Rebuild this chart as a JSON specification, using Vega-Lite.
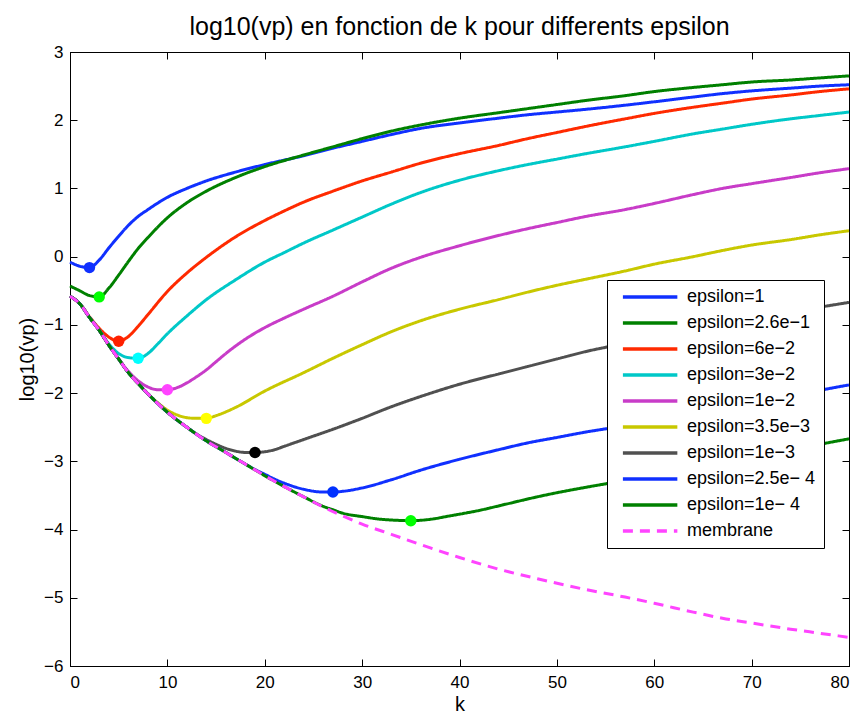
{
  "$schema": "https://vega.github.io/schema/vega-lite/v6.json",
  "autosize": {"type": "none"},
  "width": 779,
  "height": 614,
  "padding": {"left": 70, "top": 52, "right": 14, "bottom": 53},
  "title": {"text": "log10(vp) en fonction de k pour differents epsilon", "fontSize": 25, "fontWeight": "normal", "font": "Liberation Sans", "offset": 3, "anchor": "middle", "color": "black"},
  "config": {
    "font": "Liberation Sans",
    "view": {"stroke": "black", "strokeWidth": 1},
    "axis": {"grid": false, "domainColor": "black", "tickColor": "black", "labelColor": "black", "titleColor": "black", "labelFontSize": 17, "titleFontSize": 20, "titleFontWeight": "normal", "tickSize": -7, "domainWidth": 1, "labelFont": "Liberation Sans", "titleFont": "Liberation Sans"}
  },
  "datasets": {
    "curves": [
      {"s": "epsilon=1", "k": 0, "v": -0.08}, {"s": "epsilon=1", "k": 1, "v": -0.14}, {"s": "epsilon=1", "k": 2, "v": -0.16}, {"s": "epsilon=1", "k": 3, "v": -0.05}, {"s": "epsilon=1", "k": 4, "v": 0.13}, {"s": "epsilon=1", "k": 5, "v": 0.30}, {"s": "epsilon=1", "k": 6, "v": 0.46}, {"s": "epsilon=1", "k": 7, "v": 0.59}, {"s": "epsilon=1", "k": 8, "v": 0.69}, {"s": "epsilon=1", "k": 10, "v": 0.87}, {"s": "epsilon=1", "k": 12, "v": 1.00}, {"s": "epsilon=1", "k": 14, "v": 1.11}, {"s": "epsilon=1", "k": 17, "v": 1.24}, {"s": "epsilon=1", "k": 20, "v": 1.35}, {"s": "epsilon=1", "k": 24, "v": 1.48}, {"s": "epsilon=1", "k": 27, "v": 1.59}, {"s": "epsilon=1", "k": 30, "v": 1.69}, {"s": "epsilon=1", "k": 33, "v": 1.79}, {"s": "epsilon=1", "k": 36, "v": 1.88}, {"s": "epsilon=1", "k": 40, "v": 1.96}, {"s": "epsilon=1", "k": 44, "v": 2.03}, {"s": "epsilon=1", "k": 47, "v": 2.08}, {"s": "epsilon=1", "k": 50, "v": 2.12}, {"s": "epsilon=1", "k": 53, "v": 2.16}, {"s": "epsilon=1", "k": 57, "v": 2.22}, {"s": "epsilon=1", "k": 60, "v": 2.27}, {"s": "epsilon=1", "k": 64, "v": 2.34}, {"s": "epsilon=1", "k": 67, "v": 2.39}, {"s": "epsilon=1", "k": 70, "v": 2.43}, {"s": "epsilon=1", "k": 74, "v": 2.47}, {"s": "epsilon=1", "k": 77, "v": 2.50}, {"s": "epsilon=1", "k": 80, "v": 2.52},

      {"s": "epsilon=2.6e−1", "k": 0, "v": -0.43}, {"s": "epsilon=2.6e−1", "k": 1, "v": -0.50}, {"s": "epsilon=2.6e−1", "k": 2, "v": -0.57}, {"s": "epsilon=2.6e−1", "k": 3, "v": -0.59}, {"s": "epsilon=2.6e−1", "k": 4, "v": -0.46}, {"s": "epsilon=2.6e−1", "k": 5, "v": -0.27}, {"s": "epsilon=2.6e−1", "k": 6, "v": -0.07}, {"s": "epsilon=2.6e−1", "k": 7, "v": 0.12}, {"s": "epsilon=2.6e−1", "k": 8, "v": 0.28}, {"s": "epsilon=2.6e−1", "k": 10, "v": 0.57}, {"s": "epsilon=2.6e−1", "k": 12, "v": 0.79}, {"s": "epsilon=2.6e−1", "k": 14, "v": 0.96}, {"s": "epsilon=2.6e−1", "k": 17, "v": 1.16}, {"s": "epsilon=2.6e−1", "k": 20, "v": 1.32}, {"s": "epsilon=2.6e−1", "k": 24, "v": 1.49}, {"s": "epsilon=2.6e−1", "k": 27, "v": 1.61}, {"s": "epsilon=2.6e−1", "k": 30, "v": 1.73}, {"s": "epsilon=2.6e−1", "k": 33, "v": 1.84}, {"s": "epsilon=2.6e−1", "k": 36, "v": 1.93}, {"s": "epsilon=2.6e−1", "k": 40, "v": 2.03}, {"s": "epsilon=2.6e−1", "k": 44, "v": 2.11}, {"s": "epsilon=2.6e−1", "k": 47, "v": 2.17}, {"s": "epsilon=2.6e−1", "k": 50, "v": 2.23}, {"s": "epsilon=2.6e−1", "k": 53, "v": 2.29}, {"s": "epsilon=2.6e−1", "k": 57, "v": 2.36}, {"s": "epsilon=2.6e−1", "k": 60, "v": 2.42}, {"s": "epsilon=2.6e−1", "k": 64, "v": 2.48}, {"s": "epsilon=2.6e−1", "k": 67, "v": 2.52}, {"s": "epsilon=2.6e−1", "k": 70, "v": 2.56}, {"s": "epsilon=2.6e−1", "k": 74, "v": 2.59}, {"s": "epsilon=2.6e−1", "k": 77, "v": 2.62}, {"s": "epsilon=2.6e−1", "k": 80, "v": 2.65},

      {"s": "epsilon=6e−2", "k": 0, "v": -0.58}, {"s": "epsilon=6e−2", "k": 1, "v": -0.69}, {"s": "epsilon=6e−2", "k": 2, "v": -0.88}, {"s": "epsilon=6e−2", "k": 3, "v": -1.05}, {"s": "epsilon=6e−2", "k": 4, "v": -1.18}, {"s": "epsilon=6e−2", "k": 5, "v": -1.24}, {"s": "epsilon=6e−2", "k": 6, "v": -1.17}, {"s": "epsilon=6e−2", "k": 7, "v": -1.02}, {"s": "epsilon=6e−2", "k": 8, "v": -0.85}, {"s": "epsilon=6e−2", "k": 10, "v": -0.51}, {"s": "epsilon=6e−2", "k": 12, "v": -0.24}, {"s": "epsilon=6e−2", "k": 14, "v": -0.01}, {"s": "epsilon=6e−2", "k": 17, "v": 0.29}, {"s": "epsilon=6e−2", "k": 20, "v": 0.53}, {"s": "epsilon=6e−2", "k": 22, "v": 0.67}, {"s": "epsilon=6e−2", "k": 24, "v": 0.80}, {"s": "epsilon=6e−2", "k": 27, "v": 0.96}, {"s": "epsilon=6e−2", "k": 30, "v": 1.11}, {"s": "epsilon=6e−2", "k": 33, "v": 1.24}, {"s": "epsilon=6e−2", "k": 36, "v": 1.37}, {"s": "epsilon=6e−2", "k": 40, "v": 1.51}, {"s": "epsilon=6e−2", "k": 44, "v": 1.63}, {"s": "epsilon=6e−2", "k": 47, "v": 1.73}, {"s": "epsilon=6e−2", "k": 50, "v": 1.82}, {"s": "epsilon=6e−2", "k": 53, "v": 1.91}, {"s": "epsilon=6e−2", "k": 57, "v": 2.02}, {"s": "epsilon=6e−2", "k": 60, "v": 2.10}, {"s": "epsilon=6e−2", "k": 64, "v": 2.19}, {"s": "epsilon=6e−2", "k": 67, "v": 2.25}, {"s": "epsilon=6e−2", "k": 70, "v": 2.31}, {"s": "epsilon=6e−2", "k": 74, "v": 2.37}, {"s": "epsilon=6e−2", "k": 77, "v": 2.42}, {"s": "epsilon=6e−2", "k": 80, "v": 2.46},

      {"s": "epsilon=3e−2", "k": 0, "v": -0.58}, {"s": "epsilon=3e−2", "k": 1, "v": -0.69}, {"s": "epsilon=3e−2", "k": 2, "v": -0.89}, {"s": "epsilon=3e−2", "k": 3, "v": -1.08}, {"s": "epsilon=3e−2", "k": 4, "v": -1.28}, {"s": "epsilon=3e−2", "k": 5, "v": -1.42}, {"s": "epsilon=3e−2", "k": 6, "v": -1.48}, {"s": "epsilon=3e−2", "k": 7, "v": -1.49}, {"s": "epsilon=3e−2", "k": 8, "v": -1.42}, {"s": "epsilon=3e−2", "k": 9, "v": -1.28}, {"s": "epsilon=3e−2", "k": 10, "v": -1.13}, {"s": "epsilon=3e−2", "k": 12, "v": -0.87}, {"s": "epsilon=3e−2", "k": 14, "v": -0.63}, {"s": "epsilon=3e−2", "k": 17, "v": -0.34}, {"s": "epsilon=3e−2", "k": 20, "v": -0.08}, {"s": "epsilon=3e−2", "k": 22, "v": 0.06}, {"s": "epsilon=3e−2", "k": 24, "v": 0.20}, {"s": "epsilon=3e−2", "k": 27, "v": 0.39}, {"s": "epsilon=3e−2", "k": 30, "v": 0.58}, {"s": "epsilon=3e−2", "k": 33, "v": 0.77}, {"s": "epsilon=3e−2", "k": 36, "v": 0.94}, {"s": "epsilon=3e−2", "k": 40, "v": 1.12}, {"s": "epsilon=3e−2", "k": 44, "v": 1.26}, {"s": "epsilon=3e−2", "k": 47, "v": 1.35}, {"s": "epsilon=3e−2", "k": 50, "v": 1.43}, {"s": "epsilon=3e−2", "k": 53, "v": 1.51}, {"s": "epsilon=3e−2", "k": 57, "v": 1.61}, {"s": "epsilon=3e−2", "k": 60, "v": 1.69}, {"s": "epsilon=3e−2", "k": 64, "v": 1.80}, {"s": "epsilon=3e−2", "k": 67, "v": 1.87}, {"s": "epsilon=3e−2", "k": 70, "v": 1.94}, {"s": "epsilon=3e−2", "k": 74, "v": 2.02}, {"s": "epsilon=3e−2", "k": 77, "v": 2.07}, {"s": "epsilon=3e−2", "k": 80, "v": 2.12},

      {"s": "epsilon=1e−2", "k": 0, "v": -0.58}, {"s": "epsilon=1e−2", "k": 1, "v": -0.69}, {"s": "epsilon=1e−2", "k": 2, "v": -0.89}, {"s": "epsilon=1e−2", "k": 3, "v": -1.08}, {"s": "epsilon=1e−2", "k": 4, "v": -1.30}, {"s": "epsilon=1e−2", "k": 5, "v": -1.50}, {"s": "epsilon=1e−2", "k": 6, "v": -1.68}, {"s": "epsilon=1e−2", "k": 7, "v": -1.82}, {"s": "epsilon=1e−2", "k": 8, "v": -1.91}, {"s": "epsilon=1e−2", "k": 9, "v": -1.95}, {"s": "epsilon=1e−2", "k": 10, "v": -1.95}, {"s": "epsilon=1e−2", "k": 11, "v": -1.92}, {"s": "epsilon=1e−2", "k": 12, "v": -1.85}, {"s": "epsilon=1e−2", "k": 13, "v": -1.76}, {"s": "epsilon=1e−2", "k": 14, "v": -1.66}, {"s": "epsilon=1e−2", "k": 15, "v": -1.54}, {"s": "epsilon=1e−2", "k": 16, "v": -1.42}, {"s": "epsilon=1e−2", "k": 17, "v": -1.31}, {"s": "epsilon=1e−2", "k": 18, "v": -1.21}, {"s": "epsilon=1e−2", "k": 20, "v": -1.04}, {"s": "epsilon=1e−2", "k": 22, "v": -0.90}, {"s": "epsilon=1e−2", "k": 24, "v": -0.77}, {"s": "epsilon=1e−2", "k": 27, "v": -0.58}, {"s": "epsilon=1e−2", "k": 30, "v": -0.37}, {"s": "epsilon=1e−2", "k": 33, "v": -0.17}, {"s": "epsilon=1e−2", "k": 36, "v": -0.01}, {"s": "epsilon=1e−2", "k": 40, "v": 0.16}, {"s": "epsilon=1e−2", "k": 44, "v": 0.31}, {"s": "epsilon=1e−2", "k": 47, "v": 0.41}, {"s": "epsilon=1e−2", "k": 50, "v": 0.50}, {"s": "epsilon=1e−2", "k": 53, "v": 0.59}, {"s": "epsilon=1e−2", "k": 57, "v": 0.69}, {"s": "epsilon=1e−2", "k": 60, "v": 0.78}, {"s": "epsilon=1e−2", "k": 64, "v": 0.91}, {"s": "epsilon=1e−2", "k": 67, "v": 1.00}, {"s": "epsilon=1e−2", "k": 70, "v": 1.07}, {"s": "epsilon=1e−2", "k": 74, "v": 1.16}, {"s": "epsilon=1e−2", "k": 77, "v": 1.23}, {"s": "epsilon=1e−2", "k": 80, "v": 1.29},

      {"s": "epsilon=3.5e−3", "k": 0, "v": -0.58}, {"s": "epsilon=3.5e−3", "k": 1, "v": -0.69}, {"s": "epsilon=3.5e−3", "k": 2, "v": -0.89}, {"s": "epsilon=3.5e−3", "k": 3, "v": -1.08}, {"s": "epsilon=3.5e−3", "k": 4, "v": -1.30}, {"s": "epsilon=3.5e−3", "k": 5, "v": -1.50}, {"s": "epsilon=3.5e−3", "k": 6, "v": -1.70}, {"s": "epsilon=3.5e−3", "k": 7, "v": -1.86}, {"s": "epsilon=3.5e−3", "k": 8, "v": -2.01}, {"s": "epsilon=3.5e−3", "k": 9, "v": -2.14}, {"s": "epsilon=3.5e−3", "k": 10, "v": -2.25}, {"s": "epsilon=3.5e−3", "k": 11, "v": -2.32}, {"s": "epsilon=3.5e−3", "k": 12, "v": -2.36}, {"s": "epsilon=3.5e−3", "k": 13, "v": -2.37}, {"s": "epsilon=3.5e−3", "k": 14, "v": -2.37}, {"s": "epsilon=3.5e−3", "k": 15, "v": -2.33}, {"s": "epsilon=3.5e−3", "k": 17, "v": -2.21}, {"s": "epsilon=3.5e−3", "k": 20, "v": -1.97}, {"s": "epsilon=3.5e−3", "k": 24, "v": -1.70}, {"s": "epsilon=3.5e−3", "k": 27, "v": -1.49}, {"s": "epsilon=3.5e−3", "k": 30, "v": -1.29}, {"s": "epsilon=3.5e−3", "k": 33, "v": -1.10}, {"s": "epsilon=3.5e−3", "k": 36, "v": -0.94}, {"s": "epsilon=3.5e−3", "k": 40, "v": -0.77}, {"s": "epsilon=3.5e−3", "k": 44, "v": -0.63}, {"s": "epsilon=3.5e−3", "k": 47, "v": -0.52}, {"s": "epsilon=3.5e−3", "k": 50, "v": -0.42}, {"s": "epsilon=3.5e−3", "k": 53, "v": -0.33}, {"s": "epsilon=3.5e−3", "k": 57, "v": -0.21}, {"s": "epsilon=3.5e−3", "k": 60, "v": -0.11}, {"s": "epsilon=3.5e−3", "k": 64, "v": 0.00}, {"s": "epsilon=3.5e−3", "k": 67, "v": 0.09}, {"s": "epsilon=3.5e−3", "k": 70, "v": 0.17}, {"s": "epsilon=3.5e−3", "k": 74, "v": 0.25}, {"s": "epsilon=3.5e−3", "k": 77, "v": 0.32}, {"s": "epsilon=3.5e−3", "k": 80, "v": 0.38},

      {"s": "epsilon=1e−3", "k": 0, "v": -0.58}, {"s": "epsilon=1e−3", "k": 1, "v": -0.69}, {"s": "epsilon=1e−3", "k": 2, "v": -0.89}, {"s": "epsilon=1e−3", "k": 3, "v": -1.08}, {"s": "epsilon=1e−3", "k": 4, "v": -1.30}, {"s": "epsilon=1e−3", "k": 5, "v": -1.50}, {"s": "epsilon=1e−3", "k": 6, "v": -1.70}, {"s": "epsilon=1e−3", "k": 7, "v": -1.86}, {"s": "epsilon=1e−3", "k": 8, "v": -2.01}, {"s": "epsilon=1e−3", "k": 9, "v": -2.15}, {"s": "epsilon=1e−3", "k": 10, "v": -2.28}, {"s": "epsilon=1e−3", "k": 12, "v": -2.50}, {"s": "epsilon=1e−3", "k": 13, "v": -2.60}, {"s": "epsilon=1e−3", "k": 14, "v": -2.68}, {"s": "epsilon=1e−3", "k": 15, "v": -2.75}, {"s": "epsilon=1e−3", "k": 16, "v": -2.81}, {"s": "epsilon=1e−3", "k": 17, "v": -2.85}, {"s": "epsilon=1e−3", "k": 18, "v": -2.87}, {"s": "epsilon=1e−3", "k": 19, "v": -2.87}, {"s": "epsilon=1e−3", "k": 20, "v": -2.86}, {"s": "epsilon=1e−3", "k": 21, "v": -2.83}, {"s": "epsilon=1e−3", "k": 22, "v": -2.78}, {"s": "epsilon=1e−3", "k": 24, "v": -2.68}, {"s": "epsilon=1e−3", "k": 27, "v": -2.53}, {"s": "epsilon=1e−3", "k": 30, "v": -2.37}, {"s": "epsilon=1e−3", "k": 33, "v": -2.20}, {"s": "epsilon=1e−3", "k": 36, "v": -2.05}, {"s": "epsilon=1e−3", "k": 40, "v": -1.87}, {"s": "epsilon=1e−3", "k": 44, "v": -1.72}, {"s": "epsilon=1e−3", "k": 47, "v": -1.61}, {"s": "epsilon=1e−3", "k": 50, "v": -1.50}, {"s": "epsilon=1e−3", "k": 53, "v": -1.39}, {"s": "epsilon=1e−3", "k": 57, "v": -1.27}, {"s": "epsilon=1e−3", "k": 60, "v": -1.17}, {"s": "epsilon=1e−3", "k": 64, "v": -1.06}, {"s": "epsilon=1e−3", "k": 67, "v": -0.98}, {"s": "epsilon=1e−3", "k": 70, "v": -0.90}, {"s": "epsilon=1e−3", "k": 74, "v": -0.81}, {"s": "epsilon=1e−3", "k": 77, "v": -0.74}, {"s": "epsilon=1e−3", "k": 80, "v": -0.67},

      {"s": "epsilon=2.5e− 4", "k": 0, "v": -0.58}, {"s": "epsilon=2.5e− 4", "k": 1, "v": -0.69}, {"s": "epsilon=2.5e− 4", "k": 2, "v": -0.89}, {"s": "epsilon=2.5e− 4", "k": 3, "v": -1.08}, {"s": "epsilon=2.5e− 4", "k": 4, "v": -1.30}, {"s": "epsilon=2.5e− 4", "k": 5, "v": -1.50}, {"s": "epsilon=2.5e− 4", "k": 6, "v": -1.70}, {"s": "epsilon=2.5e− 4", "k": 7, "v": -1.86}, {"s": "epsilon=2.5e− 4", "k": 8, "v": -2.01}, {"s": "epsilon=2.5e− 4", "k": 9, "v": -2.15}, {"s": "epsilon=2.5e− 4", "k": 10, "v": -2.28}, {"s": "epsilon=2.5e− 4", "k": 12, "v": -2.50}, {"s": "epsilon=2.5e− 4", "k": 14, "v": -2.70}, {"s": "epsilon=2.5e− 4", "k": 16, "v": -2.87}, {"s": "epsilon=2.5e− 4", "k": 18, "v": -3.04}, {"s": "epsilon=2.5e− 4", "k": 19, "v": -3.12}, {"s": "epsilon=2.5e− 4", "k": 20, "v": -3.19}, {"s": "epsilon=2.5e− 4", "k": 21, "v": -3.26}, {"s": "epsilon=2.5e− 4", "k": 22, "v": -3.32}, {"s": "epsilon=2.5e− 4", "k": 24, "v": -3.41}, {"s": "epsilon=2.5e− 4", "k": 26, "v": -3.45}, {"s": "epsilon=2.5e− 4", "k": 27, "v": -3.45}, {"s": "epsilon=2.5e− 4", "k": 28, "v": -3.44}, {"s": "epsilon=2.5e− 4", "k": 30, "v": -3.39}, {"s": "epsilon=2.5e− 4", "k": 33, "v": -3.27}, {"s": "epsilon=2.5e− 4", "k": 36, "v": -3.13}, {"s": "epsilon=2.5e− 4", "k": 40, "v": -2.97}, {"s": "epsilon=2.5e− 4", "k": 44, "v": -2.83}, {"s": "epsilon=2.5e− 4", "k": 47, "v": -2.73}, {"s": "epsilon=2.5e− 4", "k": 50, "v": -2.65}, {"s": "epsilon=2.5e− 4", "k": 53, "v": -2.57}, {"s": "epsilon=2.5e− 4", "k": 57, "v": -2.48}, {"s": "epsilon=2.5e− 4", "k": 60, "v": -2.41}, {"s": "epsilon=2.5e− 4", "k": 64, "v": -2.31}, {"s": "epsilon=2.5e− 4", "k": 67, "v": -2.23}, {"s": "epsilon=2.5e− 4", "k": 70, "v": -2.15}, {"s": "epsilon=2.5e− 4", "k": 74, "v": -2.05}, {"s": "epsilon=2.5e− 4", "k": 77, "v": -1.96}, {"s": "epsilon=2.5e− 4", "k": 80, "v": -1.88},

      {"s": "epsilon=1e− 4", "k": 0, "v": -0.58}, {"s": "epsilon=1e− 4", "k": 1, "v": -0.69}, {"s": "epsilon=1e− 4", "k": 2, "v": -0.89}, {"s": "epsilon=1e− 4", "k": 3, "v": -1.08}, {"s": "epsilon=1e− 4", "k": 4, "v": -1.30}, {"s": "epsilon=1e− 4", "k": 5, "v": -1.50}, {"s": "epsilon=1e− 4", "k": 6, "v": -1.70}, {"s": "epsilon=1e− 4", "k": 7, "v": -1.86}, {"s": "epsilon=1e− 4", "k": 8, "v": -2.01}, {"s": "epsilon=1e− 4", "k": 9, "v": -2.15}, {"s": "epsilon=1e− 4", "k": 10, "v": -2.28}, {"s": "epsilon=1e− 4", "k": 12, "v": -2.50}, {"s": "epsilon=1e− 4", "k": 14, "v": -2.70}, {"s": "epsilon=1e− 4", "k": 16, "v": -2.87}, {"s": "epsilon=1e− 4", "k": 18, "v": -3.04}, {"s": "epsilon=1e− 4", "k": 20, "v": -3.21}, {"s": "epsilon=1e− 4", "k": 22, "v": -3.37}, {"s": "epsilon=1e− 4", "k": 24, "v": -3.52}, {"s": "epsilon=1e− 4", "k": 26, "v": -3.66}, {"s": "epsilon=1e− 4", "k": 27, "v": -3.71}, {"s": "epsilon=1e− 4", "k": 28, "v": -3.76}, {"s": "epsilon=1e− 4", "k": 30, "v": -3.81}, {"s": "epsilon=1e− 4", "k": 32, "v": -3.85}, {"s": "epsilon=1e− 4", "k": 33, "v": -3.86}, {"s": "epsilon=1e− 4", "k": 35, "v": -3.87}, {"s": "epsilon=1e− 4", "k": 37, "v": -3.85}, {"s": "epsilon=1e− 4", "k": 39, "v": -3.80}, {"s": "epsilon=1e− 4", "k": 42, "v": -3.72}, {"s": "epsilon=1e− 4", "k": 45, "v": -3.62}, {"s": "epsilon=1e− 4", "k": 48, "v": -3.52}, {"s": "epsilon=1e− 4", "k": 50, "v": -3.46}, {"s": "epsilon=1e− 4", "k": 53, "v": -3.38}, {"s": "epsilon=1e− 4", "k": 57, "v": -3.28}, {"s": "epsilon=1e− 4", "k": 60, "v": -3.20}, {"s": "epsilon=1e− 4", "k": 64, "v": -3.09}, {"s": "epsilon=1e− 4", "k": 67, "v": -3.01}, {"s": "epsilon=1e− 4", "k": 70, "v": -2.93}, {"s": "epsilon=1e− 4", "k": 74, "v": -2.83}, {"s": "epsilon=1e− 4", "k": 77, "v": -2.75}, {"s": "epsilon=1e− 4", "k": 80, "v": -2.67}
    ],
    "membrane": [
      {"s": "membrane", "k": 0, "v": -0.58}, {"s": "membrane", "k": 1, "v": -0.69}, {"s": "membrane", "k": 2, "v": -0.89}, {"s": "membrane", "k": 3, "v": -1.08}, {"s": "membrane", "k": 4, "v": -1.30}, {"s": "membrane", "k": 5, "v": -1.50}, {"s": "membrane", "k": 6, "v": -1.70}, {"s": "membrane", "k": 7, "v": -1.86}, {"s": "membrane", "k": 8, "v": -2.01}, {"s": "membrane", "k": 9, "v": -2.15}, {"s": "membrane", "k": 10, "v": -2.28}, {"s": "membrane", "k": 12, "v": -2.50}, {"s": "membrane", "k": 14, "v": -2.70}, {"s": "membrane", "k": 16, "v": -2.87}, {"s": "membrane", "k": 18, "v": -3.04}, {"s": "membrane", "k": 20, "v": -3.21}, {"s": "membrane", "k": 22, "v": -3.37}, {"s": "membrane", "k": 24, "v": -3.52}, {"s": "membrane", "k": 26, "v": -3.67}, {"s": "membrane", "k": 28, "v": -3.80}, {"s": "membrane", "k": 30, "v": -3.92}, {"s": "membrane", "k": 33, "v": -4.07}, {"s": "membrane", "k": 36, "v": -4.22}, {"s": "membrane", "k": 40, "v": -4.41}, {"s": "membrane", "k": 44, "v": -4.58}, {"s": "membrane", "k": 48, "v": -4.72}, {"s": "membrane", "k": 53, "v": -4.88}, {"s": "membrane", "k": 57, "v": -4.99}, {"s": "membrane", "k": 60, "v": -5.08}, {"s": "membrane", "k": 64, "v": -5.21}, {"s": "membrane", "k": 67, "v": -5.30}, {"s": "membrane", "k": 70, "v": -5.37}, {"s": "membrane", "k": 74, "v": -5.46}, {"s": "membrane", "k": 77, "v": -5.52}, {"s": "membrane", "k": 80, "v": -5.58}
    ],
    "minima": [
      {"s": "epsilon=1", "k": 2, "v": -0.16},
      {"s": "epsilon=2.6e−1", "k": 3, "v": -0.59},
      {"s": "epsilon=6e−2", "k": 5, "v": -1.24},
      {"s": "epsilon=3e−2", "k": 7, "v": -1.49},
      {"s": "epsilon=1e−2", "k": 10, "v": -1.95},
      {"s": "epsilon=3.5e−3", "k": 14, "v": -2.37},
      {"s": "epsilon=1e−3", "k": 19, "v": -2.87},
      {"s": "epsilon=2.5e− 4", "k": 27, "v": -3.45},
      {"s": "epsilon=1e− 4", "k": 35, "v": -3.87}
    ]
  },
  "layer": [
    {
      "data": {"name": "curves"},
      "mark": {"type": "line", "strokeWidth": 3, "interpolate": "monotone"},
      "encoding": {
        "x": {"field": "k", "type": "quantitative", "scale": {"domain": [0, 80], "nice": false, "zero": false}, "axis": {"orient": "bottom", "values": [0, 10, 20, 30, 40, 50, 60, 70, 80], "title": "k", "labelPadding": 15, "titlePadding": 4}},
        "y": {"field": "v", "type": "quantitative", "scale": {"domain": [-6, 3], "nice": false, "zero": false}, "axis": {"orient": "left", "values": [-6, -5, -4, -3, -2, -1, 0, 1, 2, 3], "title": "log10(vp)", "labelPadding": 14, "titlePadding": 6}},
        "color": {"field": "s", "type": "nominal", "sort": null,
          "scale": {"domain": ["epsilon=1", "epsilon=2.6e−1", "epsilon=6e−2", "epsilon=3e−2", "epsilon=1e−2", "epsilon=3.5e−3", "epsilon=1e−3", "epsilon=2.5e− 4", "epsilon=1e− 4", "membrane"],
                    "range": ["#1030ff", "#008000", "#ff2a00", "#00c8c8", "#c83cc8", "#c8c800", "#505050", "#1030ff", "#008000", "#ff44ff"]},
          "legend": {"title": null, "orient": "none", "legendX": 537, "legendY": 228, "fillColor": "white", "strokeColor": "black", "padding": 8, "labelFontSize": 18, "labelFont": "Liberation Sans", "labelColor": "black", "symbolType": "M-0.2,0H9.7", "symbolSize": 121, "symbolStrokeWidth": 3.5, "labelOffset": 54, "rowPadding": 8}},
        "strokeDash": {"field": "s", "type": "nominal", "sort": null,
          "scale": {"domain": ["epsilon=1", "epsilon=2.6e−1", "epsilon=6e−2", "epsilon=3e−2", "epsilon=1e−2", "epsilon=3.5e−3", "epsilon=1e−3", "epsilon=2.5e− 4", "epsilon=1e− 4", "membrane"],
                    "range": [[1, 0], [1, 0], [1, 0], [1, 0], [1, 0], [1, 0], [1, 0], [1, 0], [1, 0], [10, 7]]}}
      }
    },
    {
      "data": {"name": "membrane"},
      "mark": {"type": "line", "strokeWidth": 3, "interpolate": "monotone"},
      "encoding": {
        "x": {"field": "k", "type": "quantitative", "axis": {"orient": "top", "values": [0, 10, 20, 30, 40, 50, 60, 70, 80], "labels": false, "title": null}},
        "y": {"field": "v", "type": "quantitative", "axis": {"orient": "right", "values": [-6, -5, -4, -3, -2, -1, 0, 1, 2, 3], "labels": false, "title": null}},
        "color": {"field": "s", "type": "nominal", "sort": null},
        "strokeDash": {"field": "s", "type": "nominal", "sort": null}
      }
    },
    {
      "data": {"name": "minima"},
      "mark": {"type": "circle", "size": 130, "opacity": 1},
      "encoding": {
        "x": {"field": "k", "type": "quantitative", "axis": null},
        "y": {"field": "v", "type": "quantitative", "axis": null},
        "fill": {"field": "s", "type": "nominal", "legend": null,
          "scale": {"domain": ["epsilon=1", "epsilon=2.6e−1", "epsilon=6e−2", "epsilon=3e−2", "epsilon=1e−2", "epsilon=3.5e−3", "epsilon=1e−3", "epsilon=2.5e− 4", "epsilon=1e− 4"],
                    "range": ["#1030ff", "#00ff00", "#ff2000", "#00ffff", "#ff44ff", "#ffff00", "#000000", "#0030ff", "#00ff00"]}}
      }
    }
  ],
  "resolve": {"axis": {"x": "independent", "y": "independent"}}
}
